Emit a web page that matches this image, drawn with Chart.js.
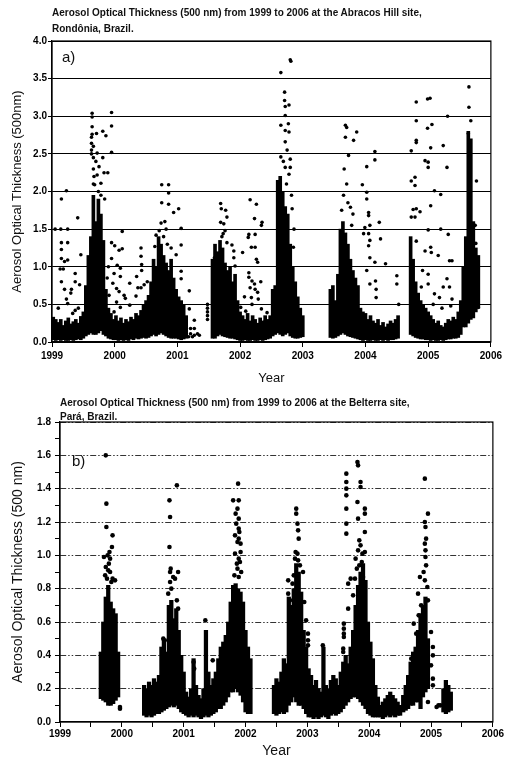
<!DOCTYPE html>
<html>
<head>
<meta charset="utf-8">
<script src="https://cdn.jsdelivr.net/npm/chart.js@4/dist/chart.umd.min.js"></script>
<style>
  body { margin: 0; background: #fff; width: 505px; height: 763px; position: relative; overflow: hidden;
         font-family: "Liberation Sans", Arial, sans-serif; }
  .panel { position: absolute; left: 0; width: 505px; }
  .ttl { position: absolute; font-weight: bold; font-size: 10px; line-height: 12px; color: #111; white-space: nowrap; }
</style>
</head>
<body>
<div class="panel" style="top:0;height:390px"><canvas id="abracos"></canvas></div>
<div class="panel" style="top:390px;height:373px"><canvas id="belterra"></canvas></div>
<div class="ttl" style="left:52px;top:7px">Aerosol Optical Thickness (500 nm) from 1999 to 2006 at the Abracos Hill site,</div>
<div class="ttl" style="left:52px;top:23px">Rondônia, Brazil.</div>
<div class="ttl" style="left:60px;top:397px">Aerosol Optical Thickness (500 nm) from 1999 to 2006 at the Belterra site,</div>
<div class="ttl" style="left:60px;top:411px">Pará, Brazil.</div>
<script>
// Abracos Hill: dense daily clusters as [year, low, high], isolated days as [year, aot]
const abracosBands = [
  [1999.02,0.03,0.33],[1999.06,0.02,0.30],[1999.10,0.03,0.26],[1999.14,0.02,0.30],[1999.18,0.03,0.22],
  [1999.22,0.02,0.28],[1999.26,0.02,0.32],[1999.30,0.03,0.24],[1999.34,0.02,0.27],[1999.38,0.03,0.30],
  [1999.42,0.04,0.25],[1999.46,0.03,0.34],[1999.50,0.05,0.40],[1999.54,0.08,0.75],[1999.58,0.10,1.15],
  [1999.62,0.12,1.40],[1999.66,0.10,1.95],[1999.70,0.10,1.60],[1999.74,0.12,1.90],[1999.78,0.15,1.70],
  [1999.82,0.10,1.35],[1999.86,0.08,0.70],[1999.90,0.05,0.45],[1999.94,0.04,0.38],[1999.98,0.03,0.30],
  [2000.02,0.03,0.35],[2000.06,0.02,0.28],[2000.10,0.03,0.32],[2000.14,0.02,0.25],[2000.18,0.03,0.30],
  [2000.22,0.02,0.27],[2000.26,0.04,0.33],[2000.30,0.03,0.30],[2000.34,0.05,0.38],[2000.38,0.04,0.35],
  [2000.42,0.05,0.42],[2000.46,0.06,0.50],[2000.50,0.05,0.55],[2000.54,0.06,0.62],[2000.58,0.08,0.80],
  [2000.62,0.10,1.10],[2000.66,0.08,1.00],[2000.70,0.10,1.40],[2000.74,0.12,1.30],[2000.78,0.10,1.15],
  [2000.82,0.08,1.05],[2000.86,0.06,0.95],[2000.90,0.05,1.10],[2000.94,0.05,0.85],[2000.98,0.05,0.70],
  [2001.02,0.04,0.60],[2001.06,0.03,0.55],[2001.10,0.04,0.50],[2001.14,0.05,0.35],
  [2001.56,0.05,1.10],[2001.60,0.05,1.30],[2001.64,0.08,1.20],[2001.68,0.10,1.35],[2001.72,0.08,1.25],
  [2001.76,0.07,1.05],[2001.80,0.06,0.95],[2001.84,0.05,1.00],[2001.88,0.05,0.80],[2001.92,0.04,0.90],
  [2001.96,0.03,0.55],[2002.00,0.02,0.40],[2002.04,0.02,0.35],[2002.08,0.03,0.30],[2002.12,0.02,0.38],
  [2002.16,0.02,0.28],[2002.20,0.03,0.35],[2002.24,0.02,0.30],[2002.28,0.02,0.25],[2002.32,0.03,0.32],
  [2002.36,0.02,0.28],[2002.40,0.03,0.35],[2002.44,0.04,0.30],[2002.48,0.05,0.35],[2002.52,0.08,0.70],
  [2002.56,0.10,0.75],[2002.60,0.12,2.15],[2002.64,0.10,2.20],[2002.68,0.08,2.00],[2002.72,0.10,1.80],
  [2002.76,0.12,1.70],[2002.80,0.08,1.30],[2002.84,0.06,1.00],[2002.88,0.05,0.80],[2002.92,0.05,0.60],
  [2002.96,0.06,0.45],[2003.00,0.07,0.35],
  [2003.44,0.06,0.70],[2003.48,0.05,0.75],[2003.52,0.06,0.55],[2003.56,0.08,0.90],[2003.60,0.10,1.50],
  [2003.64,0.12,1.60],[2003.68,0.10,1.45],[2003.72,0.08,1.30],[2003.76,0.07,1.10],[2003.80,0.06,0.95],
  [2003.84,0.05,0.85],[2003.88,0.04,0.75],[2003.92,0.03,0.45],[2003.96,0.02,0.40],[2004.00,0.03,0.38],
  [2004.04,0.02,0.30],[2004.08,0.02,0.35],[2004.12,0.03,0.28],[2004.16,0.02,0.25],[2004.20,0.02,0.30],
  [2004.24,0.03,0.22],[2004.28,0.02,0.26],[2004.32,0.03,0.20],[2004.36,0.02,0.24],[2004.40,0.03,0.28],
  [2004.44,0.03,0.25],[2004.48,0.04,0.30],[2004.52,0.05,0.35],
  [2004.72,0.10,1.40],[2004.76,0.08,1.10],[2004.80,0.06,0.80],[2004.84,0.05,0.65],[2004.88,0.04,0.55],
  [2004.92,0.04,0.50],[2004.96,0.03,0.45],[2005.00,0.03,0.40],[2005.04,0.02,0.35],[2005.08,0.03,0.30],
  [2005.12,0.02,0.25],[2005.16,0.02,0.28],[2005.20,0.03,0.22],[2005.24,0.02,0.20],[2005.28,0.03,0.25],
  [2005.32,0.04,0.30],[2005.36,0.04,0.28],[2005.40,0.05,0.33],[2005.44,0.05,0.30],[2005.48,0.06,0.40],
  [2005.52,0.10,0.55],[2005.56,0.20,1.00],[2005.60,0.20,1.40],[2005.64,0.25,2.80],[2005.68,0.30,2.70],
  [2005.72,0.32,1.60],[2005.76,0.40,1.25],[2005.80,0.45,1.15]
];
const abracosDays = [
  [1999.05,1.50],[1999.14,1.50],[1999.25,1.50],[1999.15,1.90],[1999.23,2.01],[1999.15,1.32],[1999.25,1.32],
  [1999.15,1.23],[1999.15,1.11],[1999.20,1.07],[1999.25,1.09],[1999.13,0.97],[1999.18,0.97],[1999.37,0.91],
  [1999.37,0.80],[1999.15,0.80],[1999.20,0.70],[1999.31,0.70],[1999.23,0.57],[1999.30,0.65],[1999.44,0.76],
  [1999.41,1.65],[1999.46,1.16],[1999.25,0.51],[1999.37,0.42],[1999.42,0.45],[1999.10,0.45],[1999.33,0.38],
  [1999.64,3.04],[1999.64,2.99],[1999.64,2.86],[1999.64,2.76],[1999.63,2.72],[1999.63,2.64],[1999.63,2.55],
  [1999.63,2.50],[1999.71,2.77],[1999.81,2.80],[1999.86,2.74],[1999.95,3.05],[1999.95,2.87],[1999.95,2.52],
  [1999.66,2.60],[1999.66,2.45],[1999.66,2.30],[1999.67,2.20],[1999.66,2.10],[1999.72,2.51],[1999.81,2.45],
  [1999.89,2.25],[1999.83,2.25],[1999.75,2.33],[1999.72,2.22],[1999.78,2.11],[1999.68,2.09],[1999.70,2.40],
  [1999.74,2.00],[1999.78,1.95],[1999.84,1.90],
  [1999.95,1.32],[2000.00,1.28],[2000.12,1.47],[2000.07,1.22],[2000.12,1.24],[1999.95,1.11],[2000.04,1.02],
  [2000.09,0.98],[1999.99,0.91],[2000.09,0.87],[1999.97,0.78],[2000.03,0.71],[2000.07,0.67],[1999.91,0.62],
  [2000.15,0.62],[2000.24,0.78],[2000.17,0.58],[2000.24,0.49],[2000.35,0.87],[2000.42,1.25],[2000.42,1.14],
  [2000.43,1.03],[2000.43,0.95],[2000.37,0.72],[2000.34,0.61],[2000.42,0.72],[2000.47,0.76],[2000.52,0.80],
  [2000.09,0.46],[2000.03,0.53],[1999.99,0.40],[1999.90,1.00],[1999.88,0.85],
  [2000.75,2.09],[2000.86,2.09],[2000.86,1.98],[2000.75,1.85],[2000.86,1.83],[2000.94,1.72],[2001.02,1.77],
  [2000.74,1.58],[2000.80,1.60],[2000.71,1.48],[2000.66,1.42],[2000.64,1.27],[2000.82,1.50],[2001.06,1.51],
  [2001.06,1.29],[2000.98,1.16],[2001.06,0.94],[2001.06,0.84],[2001.19,0.68],[2001.19,0.44],[2001.27,0.29],
  [2001.27,0.18],[2001.32,0.11],[2001.21,0.18],[2001.27,0.09],[2001.35,0.09],[2001.24,0.07],[2001.21,0.11],
  [2001.18,0.07],[2000.78,1.40],[2000.84,1.30],[2000.90,1.25],
  [2001.48,0.50],[2001.48,0.45],[2001.48,0.40],[2001.48,0.35],[2001.48,0.30],
  [2001.69,1.84],[2001.70,1.77],[2001.77,1.75],[2001.79,1.66],[2001.69,1.59],[2001.74,1.57],[2001.76,1.48],
  [2001.73,1.44],[2001.79,1.32],[2001.87,1.29],[2001.90,1.21],[2002.04,1.19],[2001.90,1.12],[2001.92,1.01],
  [2001.59,1.12],[2001.59,1.04],[2001.59,0.93],[2001.71,1.40],
  [2002.16,1.89],[2002.26,1.83],[2002.23,1.64],[2002.34,1.55],[2002.35,1.59],[2002.14,1.43],[2002.13,1.39],
  [2002.24,1.43],[2002.24,1.26],[2002.18,1.26],[2002.26,1.10],[2002.28,1.06],[2002.14,0.92],[2002.14,0.86],
  [2002.19,0.81],[2002.23,0.77],[2002.16,0.72],[2002.28,0.66],[2002.29,0.57],[2002.18,0.59],[2002.24,0.70],
  [2002.01,0.46],[2002.09,0.41],[2002.19,0.50],[2002.34,0.44],[2002.43,0.39],[2002.40,0.28],[2002.07,0.60],
  [2002.33,0.80],
  [2002.71,3.32],[2002.71,3.21],[2002.72,3.13],[2002.78,3.15],[2002.72,3.01],[2002.65,2.88],[2002.77,2.90],
  [2002.72,2.81],[2002.78,2.79],[2002.72,2.66],[2002.75,2.55],[2002.80,2.43],[2002.65,2.46],[2002.72,2.32],
  [2002.80,2.32],[2002.78,2.23],[2002.83,1.77],[2002.85,1.26],[2002.80,1.04],[2002.65,3.58],[2002.80,3.75],
  [2002.81,3.73],[2002.69,2.40],[2002.74,2.10],[2002.82,1.95],[2002.86,1.50],
  [2003.68,2.88],[2003.70,2.85],[2003.86,2.79],[2003.81,2.68],[2003.68,2.72],[2003.73,2.48],[2004.15,2.53],
  [2004.15,2.42],[2004.02,2.33],[2003.95,2.09],[2004.02,1.99],[2004.02,1.90],[2004.05,1.72],[2003.76,1.79],
  [2004.05,1.68],[2004.22,1.59],[2003.99,1.52],[2004.07,1.55],[2003.97,1.44],[2004.05,1.44],[2004.24,1.37],
  [2004.07,1.35],[2004.05,1.28],[2004.15,1.06],[2004.32,1.04],[2004.07,1.12],[2004.02,0.95],[2004.16,0.81],
  [2004.17,0.70],[2004.17,0.59],[2004.07,0.77],[2004.50,0.88],[2004.50,0.77],[2004.53,0.50],[2003.66,2.30],
  [2003.70,2.10],[2003.65,1.95],[2003.72,1.85],[2003.80,1.70],[2003.78,1.55],[2003.62,1.75],
  [2004.81,3.19],[2004.99,3.23],[2005.03,3.24],[2004.81,2.94],[2004.99,2.84],[2005.06,2.89],[2005.31,3.00],
  [2004.73,2.54],[2004.81,2.68],[2004.81,2.65],[2005.04,2.58],[2005.24,2.61],[2004.95,2.41],[2005.00,2.39],
  [2005.00,2.32],[2005.30,2.32],[2004.73,2.14],[2004.79,2.08],[2004.79,2.19],[2005.10,2.01],[2005.20,1.96],
  [2005.04,1.81],[2004.76,1.76],[2004.81,1.77],[2004.87,1.73],[2004.73,1.66],[2004.79,1.66],[2005.00,1.49],
  [2005.20,1.50],[2005.32,1.43],[2004.81,1.34],[2004.95,1.21],[2005.04,1.26],[2005.05,1.19],[2005.16,1.15],
  [2005.34,1.08],[2005.38,1.08],[2004.91,0.95],[2005.00,0.90],[2005.30,0.84],[2005.24,0.73],[2005.34,0.73],
  [2005.18,0.59],[2005.38,0.57],[2005.00,0.77],[2005.10,0.64],[2004.89,0.73],[2005.08,0.50],[2005.22,0.45],
  [2005.36,0.48],
  [2005.65,3.39],[2005.65,3.12],[2005.68,2.94],[2005.64,2.77],[2005.66,2.57],[2005.77,2.14],[2005.75,1.55],
  [2005.76,1.31],[2005.79,1.04],[2005.79,0.77],[2005.72,0.59],[2005.80,0.46],[2005.69,0.37]
];

// Belterra
const belterraBands = [
  [1999.66,0.14,0.42],[1999.70,0.13,0.60],[1999.74,0.12,0.75],[1999.78,0.10,0.82],[1999.82,0.10,0.72],
  [1999.86,0.11,0.68],[1999.90,0.13,0.65],[1999.94,0.15,0.42],
  [2000.36,0.04,0.22],[2000.40,0.03,0.20],[2000.44,0.04,0.24],[2000.48,0.03,0.22],[2000.52,0.04,0.26],
  [2000.56,0.05,0.24],[2000.60,0.05,0.28],[2000.64,0.06,0.45],[2000.68,0.07,0.50],[2000.72,0.08,0.42],
  [2000.76,0.09,0.70],[2000.80,0.10,0.73],[2000.84,0.09,0.62],[2000.88,0.10,0.68],[2000.92,0.08,0.55],
  [2000.96,0.06,0.40],[2001.00,0.05,0.30],
  [2001.04,0.04,0.18],[2001.08,0.03,0.15],[2001.12,0.04,0.20],[2001.16,0.03,0.38],[2001.20,0.04,0.22],
  [2001.24,0.03,0.16],[2001.28,0.02,0.14],[2001.32,0.03,0.20],[2001.36,0.04,0.55],[2001.40,0.03,0.30],
  [2001.44,0.04,0.22],[2001.48,0.05,0.26],[2001.52,0.06,0.30],
  [2001.56,0.08,0.38],[2001.60,0.08,0.45],[2001.64,0.10,0.48],[2001.68,0.12,0.52],[2001.72,0.15,0.60],
  [2001.76,0.18,0.72],[2001.80,0.18,0.82],[2001.84,0.20,0.83],[2001.88,0.18,0.80],[2001.92,0.16,0.78],
  [2001.96,0.12,0.72],[2002.00,0.06,0.55],[2002.04,0.05,0.45],[2002.08,0.05,0.38],
  [2002.46,0.05,0.22],[2002.50,0.04,0.26],[2002.54,0.05,0.24],[2002.58,0.06,0.30],[2002.62,0.05,0.38],
  [2002.66,0.06,0.35],[2002.70,0.10,0.75],[2002.74,0.12,0.70],[2002.78,0.15,0.80],[2002.82,0.12,0.95],
  [2002.86,0.10,0.90],[2002.90,0.10,0.78],[2002.94,0.08,0.55],[2002.98,0.05,0.45],[2003.02,0.03,0.32],
  [2003.06,0.03,0.28],[2003.10,0.02,0.22],[2003.14,0.03,0.25],
  [2003.18,0.02,0.20],[2003.22,0.03,0.18],[2003.26,0.04,0.45],[2003.30,0.03,0.22],[2003.34,0.02,0.20],
  [2003.38,0.04,0.25],[2003.42,0.05,0.28],[2003.46,0.04,0.26],[2003.50,0.05,0.22],[2003.54,0.06,0.30],
  [2003.58,0.08,0.36],[2003.62,0.10,0.40],[2003.66,0.12,0.35],[2003.70,0.14,0.45],[2003.74,0.15,0.55],
  [2003.78,0.15,0.70],[2003.82,0.14,0.82],[2003.86,0.12,0.90],[2003.90,0.10,0.95],[2003.94,0.08,0.85],
  [2003.98,0.05,0.60],[2004.02,0.04,0.48],[2004.06,0.03,0.38],[2004.10,0.03,0.22],[2004.14,0.03,0.15],
  [2004.18,0.03,0.10],[2004.22,0.02,0.12],[2004.26,0.03,0.14],[2004.30,0.04,0.16],[2004.34,0.03,0.18],
  [2004.38,0.04,0.16],[2004.42,0.03,0.14],[2004.46,0.04,0.12],[2004.50,0.04,0.10],
  [2004.55,0.06,0.16],[2004.59,0.07,0.22],[2004.63,0.08,0.28],[2004.67,0.10,0.36],[2004.71,0.10,0.42],
  [2004.75,0.12,0.45],[2004.79,0.12,0.55],[2004.83,0.08,0.65],[2004.87,0.15,0.70],[2004.91,0.18,0.75],
  [2004.95,0.20,0.50],
  [2005.20,0.06,0.20],[2005.24,0.05,0.25],[2005.28,0.06,0.22],[2005.32,0.07,0.18]
];
const belterraDays = [
  [1999.74,1.60],[1999.75,1.31],[1999.75,1.17],[1999.85,1.12],[1999.84,1.05],[1999.80,1.02],[1999.77,1.00],
  [1999.71,0.99],[1999.81,0.98],[1999.74,0.93],[1999.78,0.91],[1999.81,0.90],[1999.85,0.86],[1999.89,0.85],
  [1999.73,0.88],[1999.97,0.08],[1999.97,0.09],[1999.79,0.95],[1999.83,0.84],[1999.76,0.86],
  [2000.89,1.42],[2000.77,1.33],[2000.78,1.23],[2000.77,1.05],[2000.79,0.92],[2000.78,0.90],[2000.83,0.87],
  [2000.86,0.86],[2000.91,0.90],[2000.78,0.84],[2000.75,0.77],[2000.89,0.73],[2000.91,0.68],[2000.86,0.59],
  [2000.83,0.55],[2000.75,0.49],[2000.67,0.50],[2000.80,0.80],
  [2001.35,0.61],[2001.47,0.37],[2001.16,0.36],[2001.17,0.32],
  [2001.88,1.43],[2001.80,1.33],[2001.89,1.33],[2001.87,1.28],[2001.84,1.25],[2001.89,1.22],[2001.85,1.19],
  [2001.89,1.16],[2001.83,1.12],[2001.89,1.10],[2001.92,1.07],[2001.87,1.08],[2001.83,1.01],[2001.89,0.98],
  [2001.91,0.96],[2001.87,0.92],[2001.93,0.90],[2001.89,0.87],[2001.92,1.02],[2001.86,0.95],[2001.82,0.88],
  [2001.90,1.14],
  [2002.82,1.28],[2002.82,1.25],[2002.84,1.19],[2002.85,1.15],[2002.86,1.10],[2002.81,1.02],[2002.84,1.01],
  [2002.80,0.98],[2002.85,0.97],[2002.93,0.90],[2002.88,0.94],[2002.69,0.85],[2002.69,0.77],[2002.72,0.73],
  [2002.95,0.72],[2002.98,0.61],[2003.01,0.53],[2003.01,0.49],[2003.01,0.46],[2002.76,0.83],[2002.78,0.88],
  [2003.25,0.46],[2003.59,0.59],[2003.59,0.53],[2003.59,0.56],[2003.59,0.51],[2003.58,0.44],[2003.58,0.42],
  [2003.63,1.49],[2003.63,1.44],[2003.63,1.40],[2003.63,1.36],[2003.63,1.28],[2003.63,1.19],[2003.63,1.13],
  [2003.66,0.83],[2003.66,0.68],[2003.70,0.86],
  [2003.81,1.56],[2003.82,1.54],[2003.86,1.44],[2003.86,1.41],[2003.81,1.32],[2003.93,1.28],[2003.93,1.25],
  [2003.82,1.22],[2003.78,0.98],[2003.84,1.09],[2003.86,1.06],[2003.89,1.01],[2003.82,1.03],[2003.84,0.94],
  [2003.90,0.87],[2003.77,0.86],[2003.74,0.76],[2003.93,1.14],[2003.93,1.02],[2003.88,0.96],[2003.80,0.92],
  [2004.90,1.46],[2004.95,1.25],[2004.90,1.20],[2004.91,1.17],[2004.92,1.10],[2004.90,1.07],[2004.91,1.03],
  [2004.91,0.99],[2004.92,0.94],[2004.82,0.87],[2004.90,0.85],[2004.94,0.81],[2004.79,0.77],[2004.95,0.73],
  [2004.72,0.59],[2004.76,0.53],[2004.68,0.38],[2005.00,0.54],[2005.03,0.45],[2005.03,0.40],[2005.00,0.34],
  [2005.03,0.26],[2005.03,0.22],[2004.95,0.12],[2004.86,0.60],[2004.88,0.90],[2004.84,0.70],[2004.80,0.64],
  [2005.09,0.09],[2005.12,0.10],[2005.15,0.10]
];

const YEAR_TICKS = [1999, 2000, 2001, 2002, 2003, 2004, 2005, 2006];

// draws the closed box round the plot and the panel letter
const boxAndLetter = {
  id: 'boxAndLetter',
  afterDraw(chart, args, opts) {
    const { ctx, chartArea: a } = chart;
    ctx.save();
    ctx.strokeStyle = '#000';
    ctx.lineWidth = 1.2;
    ctx.strokeRect(a.left, a.top, a.right - a.left, a.bottom - a.top);
    ctx.fillStyle = '#111';
    ctx.font = '15px "Liberation Sans", Arial, sans-serif';
    ctx.textBaseline = 'middle';
    ctx.fillText(opts.letter, a.left + opts.dx, a.top + opts.dy);
    ctx.restore();
  }
};

function makeChart(id, cfg) {
  const tickFont = { family: '"Liberation Sans", Arial, sans-serif', size: 10, weight: 'bold' };
  const titleFont = { family: '"Liberation Sans", Arial, sans-serif', size: cfg.titleSize };
  return new Chart(document.getElementById(id), {
    type: 'scatter',
    data: {
      datasets: [
        {
          type: 'bar',
          data: cfg.bands.map(b => ({ x: b[0], y: [b[1], b[2]] })),
          backgroundColor: '#000',
          barThickness: cfg.barWidth,
          grouped: false,
          order: 2
        },
        {
          data: cfg.days.map(d => ({ x: d[0], y: d[1] })),
          backgroundColor: '#000',
          borderWidth: 0,
          pointRadius: cfg.dot,
          order: 1
        }
      ]
    },
    options: {
      responsive: true,
      maintainAspectRatio: false,
      animation: false,
      events: [],
      layout: { padding: { top: cfg.top, right: 12, left: 0, bottom: 0 } },
      plugins: {
        legend: { display: false },
        tooltip: { enabled: false },
        boxAndLetter: cfg.letter
      },
      scales: {
        x: {
          type: 'linear',
          offset: false,
          min: 1999, max: 2006,
          afterFit: s => { s.height = cfg.xHeight; },
          afterBuildTicks: s => { s.ticks = cfg.xTicks.map(v => ({ value: v })); },
          ticks: {
            color: '#000', font: tickFont, padding: cfg.xPad, maxRotation: 0, autoSkip: false,
            callback: v => YEAR_TICKS.includes(v) ? String(v) : ''
          },
          grid: { drawOnChartArea: false, offset: false, tickLength: 5, tickColor: '#000', tickWidth: 1 },
          border: { color: '#000', width: 1.2 },
          title: { display: true, text: 'Year', color: '#111', font: titleFont, padding: { top: 0, bottom: cfg.yearPad } }
        },
        y: {
          min: 0, max: cfg.yMax,
          afterFit: s => { s.width = cfg.yWidth; },
          ticks: {
            stepSize: cfg.yStep, color: '#000', font: tickFont, padding: cfg.yPad, autoSkip: false,
            callback: cfg.yLabel
          },
          grid: {
            color: cfg.gridColor, lineWidth: 1, tickLength: cfg.yTickLen, tickColor: '#000', tickWidth: 1
          },
          border: { color: '#000', width: 1.2, dash: cfg.gridDash },
          title: { display: true, text: cfg.yTitle, color: '#111', font: titleFont, padding: { top: cfg.yTitlePad, bottom: 0 } }
        }
      }
    },
    plugins: [boxAndLetter]
  });
}

makeChart('abracos', {
  bands: abracosBands, days: abracosDays, barWidth: 3, dot: 1.8,
  top: 41, xHeight: 48, yWidth: 52, xPad: 3, yPad: 1, yTickLen: 4, yearPad: 4,
  xTicks: YEAR_TICKS, yMax: 4, yStep: 0.5,
  yLabel: v => v.toFixed(1),
  gridColor: '#000', gridDash: [],
  titleSize: 13, yTitle: 'Aerosol Optical Thickness (500nm)', yTitlePad: 10,
  letter: { letter: 'a)', dx: 10, dy: 17 }
});

makeChart('belterra', {
  bands: belterraBands, days: belterraDays, barWidth: 3.6, dot: 2.3,
  top: 32, xHeight: 41, yWidth: 60, xPad: 1, yPad: 4, yTickLen: 5, yearPad: 3,
  xTicks: [1999, 1999.5, 2000, 2000.5, 2001, 2001.5, 2002, 2002.5, 2003, 2003.5, 2004, 2004.5, 2005, 2005.5, 2006],
  yMax: 1.8, yStep: 0.1,
  yLabel: v => Math.round(v * 10) % 2 === 0 ? v.toFixed(1) : '',
  gridColor: c => (c.tick && Math.round(c.tick.value * 10) % 2 === 0 && c.tick.value > 0) ? '#333' : 'rgba(0,0,0,0)',
  gridDash: [6, 2, 1.5, 2, 1.5, 2],
  titleSize: 14, yTitle: 'Aerosol Optical Thickness (500 nm)', yTitlePad: 10,
  letter: { letter: 'b)', dx: 12, dy: 40 }
});
</script>
</body>
</html>
